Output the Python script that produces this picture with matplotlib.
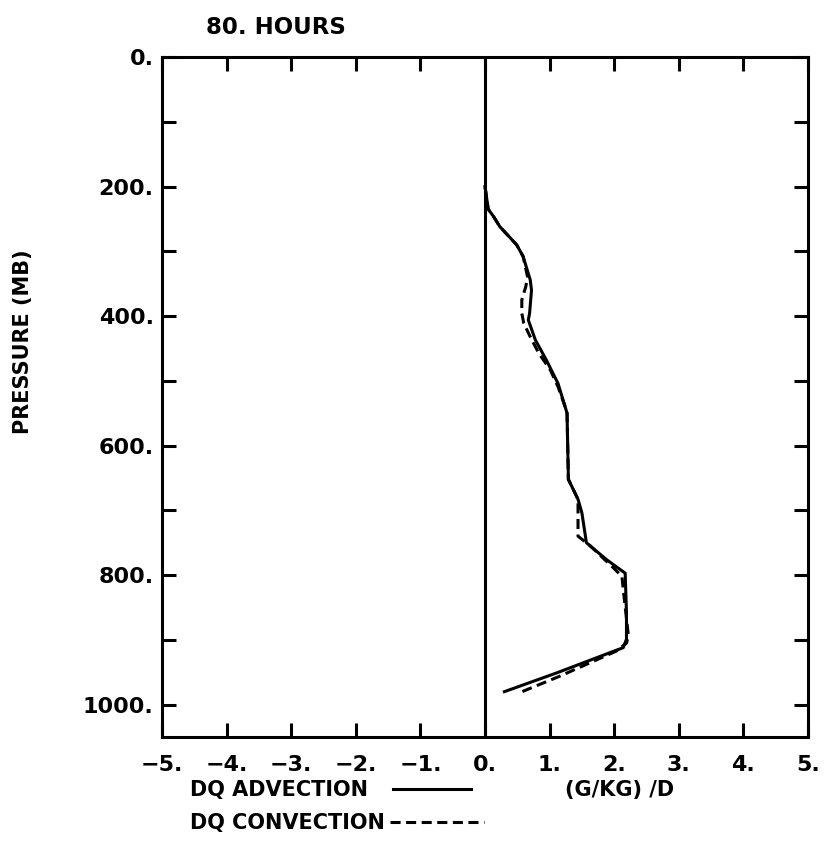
import matplotlib
matplotlib.use('Agg')
import matplotlib.pyplot as plt
import numpy as np

plt.rcParams['font.family'] = 'DejaVu Sans'
plt.rcParams['font.weight'] = 'bold'
plt.rcParams['font.size'] = 15

# values: (g/kg)/day against pressure (mb)
adv_x = [0.0, 0.05, 0.13, 0.23, 0.49, 0.59, 0.70, 0.72, 0.69, 0.67, 0.78, 0.95,
         1.13, 1.24, 1.27, 1.29, 1.29, 1.44, 1.50, 1.57, 1.63, 1.88, 2.17, 2.19,
         2.19, 2.14, 1.11, 0.30]
adv_p = [200, 235, 246, 262, 290, 308, 344, 360, 396, 406, 437, 468,
         504, 540, 550, 648, 652, 683, 704, 750, 755, 776, 797, 858,
         899, 912, 951, 980]

conv_x = [0.0, 0.05, 0.13, 0.23, 0.49, 0.59, 0.66, 0.63, 0.57, 0.57, 0.60, 0.70,
          0.83, 1.01, 1.13, 1.24, 1.27, 1.29, 1.29, 1.44, 1.44, 1.44, 1.57, 1.63,
          1.99, 2.12, 2.14, 2.19, 2.22, 2.19, 2.04, 1.16, 0.50]
conv_p = [200, 235, 246, 262, 290, 308, 340, 355, 375, 396, 411, 432,
          457, 483, 509, 540, 550, 648, 652, 683, 709, 740, 750, 755,
          789, 802, 822, 867, 894, 905, 917, 956, 983]

x_ticks = np.arange(-5, 6)
x_labels = ['\u22125.', '\u22124.', '\u22123.', '\u22122.', '\u22121.',
            '0.', '1.', '2.', '3.', '4.', '5.']
y_ticks = np.arange(0, 1001, 100)
y_labels = ['0.', '', '200.', '', '400.', '', '600.', '', '800.', '', '1000.']

fig = plt.figure(figsize=(8.29, 8.43), dpi=100)
ax = fig.add_axes([162 / 829, 106 / 843, 646 / 829, 680 / 843])

lw = 2.2
ax.axvline(0, color='black', lw=lw)
adv, = ax.plot(adv_x, adv_p, color='black', lw=lw, solid_joinstyle='round')
conv, = ax.plot(conv_x, conv_p, color='black', lw=lw, dashes=(3.3, 1.8))

ax.set_xlim(-5, 5)
ax.set_ylim(1050, 0)
ax.set_xticks(x_ticks)
ax.set_xticklabels(x_labels)
ax.set_yticks(y_ticks)
ax.set_yticklabels(y_labels)
ax.tick_params(direction='in', length=10, width=lw, top=True, right=True,
               labelsize=16)
ax.tick_params(axis='x', pad=13)
ax.tick_params(axis='y', pad=6)
for s in ax.spines.values():
    s.set_linewidth(lw)

ax.set_xlabel('(G/KG) /D', fontsize=15, fontweight='bold', va='center')
ax.xaxis.set_label_coords((620 - 162) / 646, -53 / 680)

fig.text(23 / 829, 1 - 342 / 843, 'PRESSURE (MB)', rotation=90,
         ha='center', va='center', fontsize=15, fontweight='bold')
fig.text(206 / 829, 1 - 28 / 843, '80. HOURS', ha='left', va='center',
         fontsize=16.5, fontweight='bold')

# legend: label first, sample after it, one row each
leg1 = ax.legend([adv], ['DQ ADVECTION'], loc='center left',
                 bbox_to_anchor=(190 / 829, 1 - 790 / 843),
                 bbox_transform=fig.transFigure, frameon=False,
                 markerfirst=False, borderpad=0, borderaxespad=0,
                 handlelength=3.75, handletextpad=1.2, fontsize=15)
ax.add_artist(leg1)
ax.legend([conv], ['DQ CONVECTION'], loc='center left',
          bbox_to_anchor=(190 / 829, 1 - 823 / 843),
          bbox_transform=fig.transFigure, frameon=False,
          markerfirst=False, borderpad=0, borderaxespad=0,
          handlelength=4.5, handletextpad=0.25, fontsize=15)

fig.savefig('out.png', dpi=100)
